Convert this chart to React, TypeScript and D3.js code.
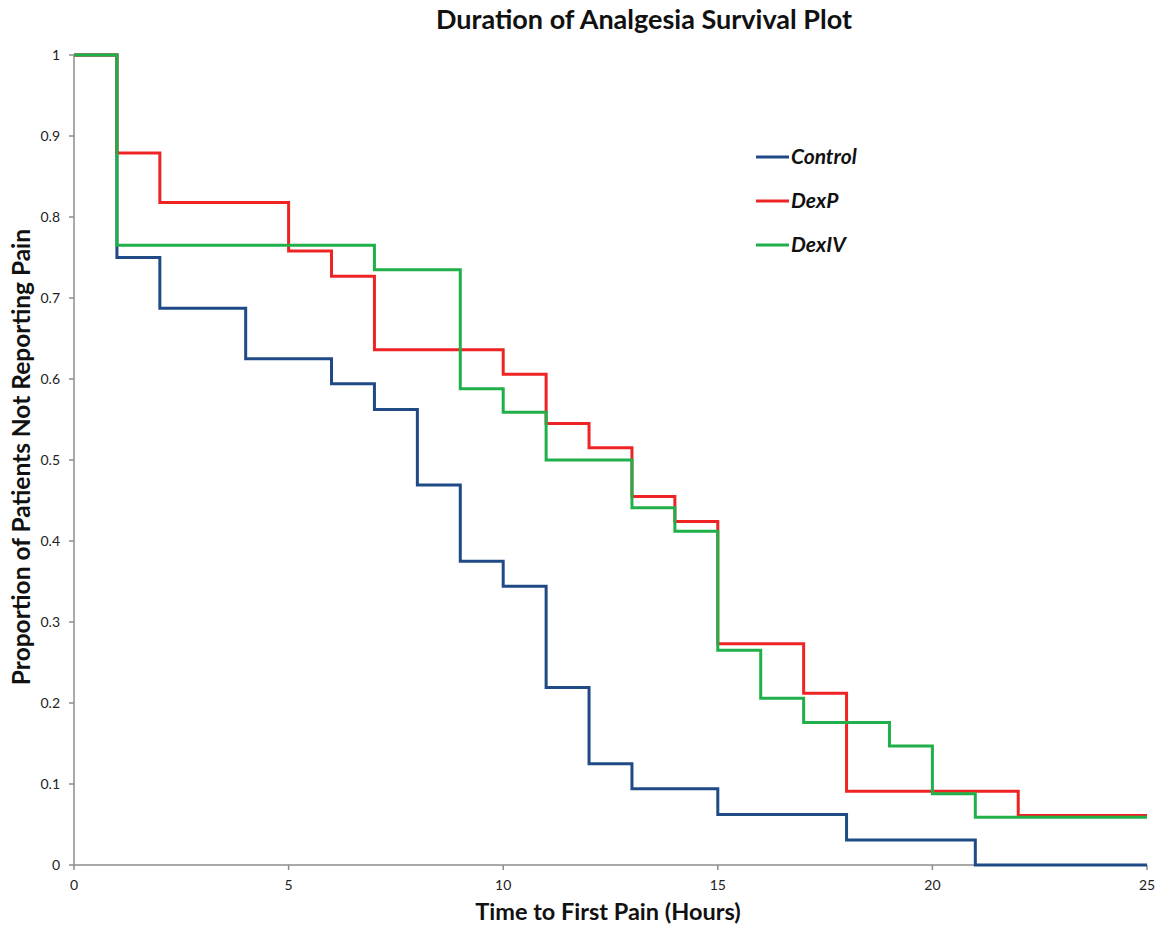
import React from 'react';
import * as d3 from 'd3';

// hours at which each step begins, and the survival proportion from then on
const controlTimes = [0, 1, 2, 4, 6, 7, 8, 9, 10, 11, 12, 13, 15, 18, 21, 25];
const controlValues = [1, 0.75, 0.6875, 0.625, 0.594, 0.5625, 0.469, 0.375, 0.344, 0.219, 0.125, 0.094, 0.0625, 0.031, 0, 0];

const dexPTimes = [0, 1, 2, 5, 6, 7, 10, 11, 12, 13, 14, 15, 17, 18, 22, 25];
const dexPValues = [1, 0.879, 0.818, 0.758, 0.727, 0.636, 0.606, 0.545, 0.515, 0.455, 0.424, 0.273, 0.212, 0.091, 0.061, 0.061];

const dexIVTimes = [0, 1, 7, 9, 10, 11, 13, 14, 15, 16, 17, 19, 20, 21, 25];
const dexIVValues = [1, 0.765, 0.735, 0.588, 0.559, 0.5, 0.441, 0.412, 0.265, 0.206, 0.176, 0.147, 0.088, 0.059, 0.059];

const seriesNames = ['Control', 'DexP', 'DexIV'];
const seriesColors = ['#1f4a86', '#ee2424', '#1fb04a'];

const xTicks = [0, 5, 10, 15, 20, 25];
const yTicks = [0, 0.1, 0.2, 0.3, 0.4, 0.5, 0.6, 0.7, 0.8, 0.9, 1];

const W = 1160;
const H = 929;
const left = 74;
const right = 1147;
const top = 55;
const bottom = 865;
const font = 'Lato, "Open Sans", sans-serif';

export default function App() {
  const x = d3.scaleLinear().domain([0, 25]).range([left, right]);
  const y = d3.scaleLinear().domain([0, 1]).range([bottom, top]);

  const line = d3.line<[number, number]>()
    .x((d) => x(d[0]))
    .y((d) => y(d[1]))
    .curve(d3.curveStepAfter);

  const series = [
    d3.zip(controlTimes, controlValues) as [number, number][],
    d3.zip(dexPTimes, dexPValues) as [number, number][],
    d3.zip(dexIVTimes, dexIVValues) as [number, number][],
  ];

  return (
    <svg width={W} height={H} style={{ position: 'absolute', left: 0, top: 0, background: '#fff' }}>
      <text x={644} y={29} textAnchor="middle" fontFamily={font} fontWeight="bold" fontSize={27} fill="#111">
        Duration of Analgesia Survival Plot
      </text>

      {/* axes */}
      <line x1={left} x2={left} y1={top} y2={bottom} stroke="#8c8c8c" strokeWidth={1.5} />
      <line x1={left} x2={right} y1={bottom} y2={bottom} stroke="#8c8c8c" strokeWidth={1.5} />
      {yTicks.map((t) => (
        <g key={'y' + t}>
          <line x1={left - 5} x2={left} y1={y(t)} y2={y(t)} stroke="#8c8c8c" strokeWidth={1.5} />
          <text x={left - 14} y={y(t)} dy="0.35em" textAnchor="end" fontFamily={font} fontSize={14} fill="#222">
            {d3.format('~g')(t)}
          </text>
        </g>
      ))}
      {xTicks.map((t) => (
        <g key={'x' + t}>
          <line x1={x(t)} x2={x(t)} y1={bottom} y2={bottom + 5} stroke="#8c8c8c" strokeWidth={1.5} />
          <text x={x(t)} y={bottom + 25} textAnchor="middle" fontFamily={font} fontSize={14} fill="#222">
            {t}
          </text>
        </g>
      ))}

      <text x={608} y={920} textAnchor="middle" fontFamily={font} fontWeight="bold" fontSize={23.5} fill="#111">
        Time to First Pain (Hours)
      </text>
      <text transform="translate(30,457) rotate(-90)" textAnchor="middle" fontFamily={font} fontWeight="bold" fontSize={24.5} fill="#111">
        Proportion of Patients Not Reporting Pain
      </text>

      {series.map((s, i) => (
        <path key={seriesNames[i]} d={line(s) || ''} fill="none" stroke={seriesColors[i]} strokeWidth={3} />
      ))}

      {/* legend */}
      {seriesNames.map((name, i) => (
        <g key={'lg' + name} transform={`translate(756,${157 + i * 44})`}>
          <line x1={0} x2={33} y1={0} y2={0} stroke={seriesColors[i]} strokeWidth={3} />
          <text x={35} y={0} dy="0.35em" fontFamily={font} fontWeight="bold" fontStyle="italic" fontSize={21} fill="#111">
            {name}
          </text>
        </g>
      ))}
    </svg>
  );
}
